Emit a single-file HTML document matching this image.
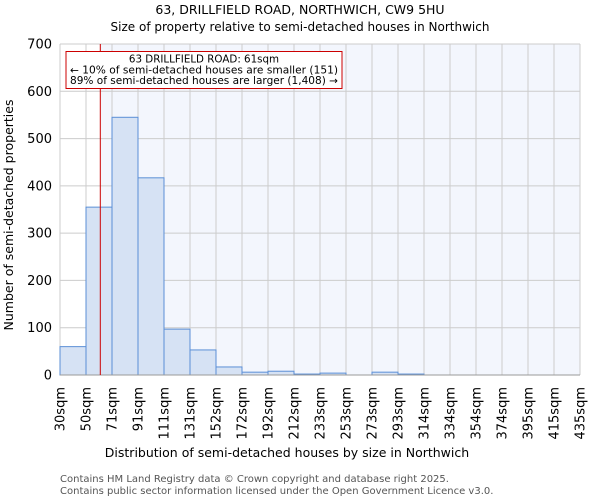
<!DOCTYPE html>
<html><head><meta charset="utf-8"><style>
body{margin:0;background:#fff;font-family:"DejaVu Sans","Liberation Sans",sans-serif;}
</style></head><body>
<svg width="600" height="500" xmlns="http://www.w3.org/2000/svg" font-family="DejaVu Sans, Liberation Sans, sans-serif">
<text x="300" y="14" text-anchor="middle" font-size="12.5">63, DRILLFIELD ROAD, NORTHWICH, CW9 5HU</text>
<text x="300" y="31" text-anchor="middle" font-size="12">Size of property relative to semi-detached houses in Northwich</text>
<g id="plot"></g>
<text x="287" y="457" text-anchor="middle" font-size="12.5">Distribution of semi-detached houses by size in Northwich</text>
<text transform="translate(13,215) rotate(-90)" text-anchor="middle" font-size="12.5">Number of semi-detached properties</text>
<text x="60" y="482" font-size="10" fill="#555">Contains HM Land Registry data © Crown copyright and database right 2025.</text>
<text x="60" y="494" font-size="10" fill="#555">Contains public sector information licensed under the Open Government Licence v3.0.</text>
</svg>
<script>
const tickLabels=["30sqm","50sqm","71sqm","91sqm","111sqm","131sqm","152sqm","172sqm","192sqm","212sqm","233sqm","253sqm","273sqm","293sqm","314sqm","334sqm","354sqm","374sqm","395sqm","415sqm","435sqm"];
const counts=[60,355,545,417,97,53,17,6,8,2,4,0,6,2,0,0,0,0,0,0];
const yTicks=[0,100,200,300,400,500,600,700];
const propertyBin=1.55;
const ns="http://www.w3.org/2000/svg";
const g=document.getElementById('plot');
const L=60,R=580,T=44,B=375,yMax=700;
const bw=(R-L)/counts.length;
const x=i=>L+i*bw;
const y=v=>B-(v/yMax)*(B-T);
function mk(t,a){const e=document.createElementNS(ns,t);for(const k in a)e.setAttribute(k,a[k]);g.appendChild(e);return e;}
const px=x(propertyBin);
let e=mk('rect',{x:px,y:T,width:R-px,height:B-T,fill:'#f3f6fd'});


for(let i=0;i<tickLabels.length;i++){
 e=mk('line',{x1:x(i),x2:x(i),y1:T,y2:B,stroke:'#ccc','stroke-width':1});
 
 
 e=mk('text',{transform:`translate(${x(i)+4.5},${B+12}) rotate(-90)`,'text-anchor':'end','font-size':13});
 e.textContent=tickLabels[i];
 
 
}
yTicks.forEach(v=>{
 e=mk('line',{x1:L,x2:R,y1:y(v),y2:y(v),stroke:'#ccc','stroke-width':1});
 
 
 e=mk('text',{x:L-8,y:y(v)+4.5,'text-anchor':'end','font-size':13});
 e.textContent=v;
 
 
});
counts.forEach((c,i)=>{
 if(c<=0)return;
 e=mk('rect',{x:x(i),y:y(c),width:bw,height:B-y(c),fill:'#d6e2f4',stroke:'#5b8fd6','stroke-width':1});
 
 
});
e=mk('line',{x1:L,x2:R,y1:B,y2:B,stroke:'#999'});


e=mk('line',{x1:px,x2:px,y1:T,y2:B,stroke:'#cc0000','stroke-width':1});


e=mk('rect',{x:66,y:51.5,width:276,height:37,fill:'#fff',stroke:'#cc0000','stroke-width':1});


["63 DRILLFIELD ROAD: 61sqm","← 10% of semi-detached houses are smaller (151)","89% of semi-detached houses are larger (1,408) →"].forEach((t,i)=>{
 e=mk('text',{x:204,y:62.5+i*10.8,'text-anchor':'middle','font-size':10.3,textLength:i===0?0:268,lengthAdjust:'spacingAndGlyphs'});
 if(i===0)e.removeAttribute('textLength');
 e.textContent=t;
 
 
});
</script>
</body></html>
